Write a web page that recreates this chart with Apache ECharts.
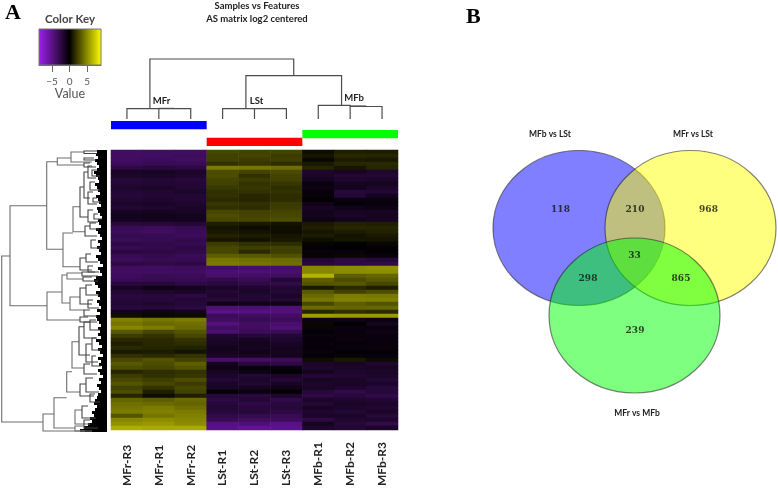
<!DOCTYPE html>
<html><head><meta charset="utf-8">
<style>html,body{margin:0;padding:0;background:#fff}#c{width:778px;height:489px;filter:blur(.45px)}</style>
<script src="https://cdn.jsdelivr.net/npm/echarts@6/dist/echarts.min.js"></script>
</head><body><div id="c"></div>
<script>
const samples = ['MFr-R3','MFr-R1','MFr-R2','LSt-R1','LSt-R2','LSt-R3','MFb-R1','MFb-R2','MFb-R3'];
const mfrR3 = [-3.6,-3.4,-3.5,-3.2,-2.4,-1.3,-1.5,-2.0,-1.8,-1.6,-1.9,-2.0,-1.7,-1.5,-1.8,-1.2,-0.9,-1.1,-2.2,-3.0,-3.2,-2.8,-3.1,-2.5,-2.9,-2.2,-3.0,-3.2,-2.4,
 -3.4,-3.6,-3.3,-3.1,-2.2,-1.2,-1.8,-2.2,-2.0,-1.8,-2.2,-0.9,0.6,
 4.6,4.2,4.8,3.2,2.2,1.5,1.2,1.6,1.0,1.8,2.6,3.2,2.8,1.4,2.2,2.6,3.0,2.4,2.8,1.4,3.6,4.0,4.2,4.4,3.0,4.8,5.2,6.2];
const mfrR1 = [-3.4,-3.5,-3.3,-3.0,-2.2,-1.2,-1.4,-1.8,-1.7,-1.4,-1.7,-1.9,-1.6,-1.3,-1.6,-1.1,-0.8,-1.0,-2.0,-3.2,-3.4,-3.0,-2.9,-2.6,-2.7,-2.4,-2.8,-3.0,-2.6,
 -3.5,-3.4,-3.1,-2.9,-2.0,-0.6,-1.6,-2.0,-2.1,-1.6,-2.0,-0.7,0.4,
 4.2,3.8,4.4,2.6,1.9,1.6,1.5,1.4,1.1,1.6,3.0,2.8,2.6,1.7,1.8,2.3,2.6,1.9,1.2,0.6,3.4,3.8,4.4,4.6,4.2,5.0,5.4,6.0];
const mfrR2 = [-3.5,-3.3,-3.4,-3.1,-2.3,-1.4,-1.6,-2.1,-1.9,-1.7,-1.5,-1.8,-1.9,-1.6,-1.4,-1.3,-1.0,-0.9,-1.9,-2.9,-3.1,-3.2,-2.7,-2.8,-2.5,-2.6,-3.1,-2.9,-2.5,
 -3.3,-3.5,-3.2,-3.0,-2.4,-1.0,-1.3,-2.3,-1.9,-2.0,-2.3,-1.0,0.5,
 4.4,4.0,3.8,3.0,2.6,1.9,1.7,1.3,0.8,1.9,2.4,3.4,3.0,1.9,2.0,2.8,2.2,2.6,2.4,1.2,3.8,3.6,4.0,4.4,4.6,4.8,5.0,6.0];
const lstR1 = [2.6,2.4,2.4,1.8,4.4,2.8,2.8,2.5,2.4,2.1,1.8,1.8,1.6,2.0,1.8,2.6,2.8,2.6,1.2,0.8,1.0,1.3,0.9,2.2,2.6,2.6,3.4,4.2,4.4,
 -3.6,-4.0,-3.8,-2.6,-2.2,-1.4,-1.8,-1.6,-2.0,-0.6,-4.2,-4.8,-3.2,
 -3.4,-4.4,-3.6,-4.0,-1.6,-1.4,-1.2,-0.9,-1.0,-1.3,-3.8,-1.0,-0.6,-1.2,-1.5,-1.8,-1.4,-1.3,-0.2,-2.0,-2.4,-2.0,-1.8,-2.2,-2.6,-3.0,-4.6,-4.8];
const lstR2 = [2.4,2.5,2.2,2.0,4.2,2.5,1.8,2.2,1.9,2.0,1.8,1.5,1.4,1.8,1.7,2.4,2.5,2.6,1.0,0.5,0.8,1.1,0.7,1.8,2.3,1.6,3.2,4.0,4.2,
 -3.8,-4.1,-3.6,-3.0,-2.4,-1.6,-1.5,-1.8,-1.7,-0.8,-4.0,-4.6,-3.4,
 -3.0,-3.6,-3.4,-3.2,-2.0,-1.2,-1.0,-1.1,-0.8,-1.2,-3.6,-2.2,-0.3,-0.6,-1.8,-1.5,-1.7,-1.1,-0.5,-2.2,-1.8,-2.4,-2.2,-2.0,-2.8,-3.4,-4.2,-5.2];
const lstR3 = [2.5,2.2,2.3,1.7,4.0,2.7,2.5,2.4,2.0,1.7,1.9,1.7,1.7,2.1,2.2,2.5,2.6,2.8,0.8,0.6,0.6,0.9,1.0,1.7,2.4,2.3,2.9,3.8,4.0,
 -3.7,-3.9,-3.4,-1.8,-2.6,-1.7,-1.9,-1.4,-1.8,-0.7,-4.3,-4.4,-3.6,
 -3.2,-3.8,-4.2,-3.0,-1.8,-1.6,-1.3,-1.0,-1.1,-1.0,-3.2,-2.4,-0.4,0.2,-1.4,-1.9,-1.2,-0.8,0.2,-1.6,-2.6,-2.2,-2.0,-2.4,-3.0,-3.2,-4.8,-5.0];
const mfbR1 = [0.6,0.9,0.4,1.0,1.4,-1.6,-1.4,-1.0,-0.4,-0.6,-0.2,-0.3,0.0,-0.8,-1.2,-0.9,-1.0,-0.6,1.0,1.2,0.9,1.1,0.6,0.3,-0.1,-0.4,0.3,-1.8,-2.2,
 4.8,4.8,6.4,3.4,3.0,1.0,3.2,3.8,4.2,2.6,3.8,1.4,5.6,
 -0.6,0.4,-0.3,-0.1,-0.5,-0.2,-0.4,-0.2,-0.5,-0.1,0.6,-1.4,-1.6,-1.0,-1.9,-1.2,-1.5,-1.3,-2.0,-2.4,-1.4,-1.8,-1.2,-1.6,-1.4,-2.4,-1.0,-1.6];
const mfbR2 = [1.2,1.5,1.1,1.5,0.9,-1.2,-1.8,-1.6,-1.1,-0.9,-2.0,-1.8,-0.4,-0.2,-0.8,-1.2,-1.3,-0.9,1.3,1.5,1.1,0.8,0.9,0.2,0.1,-0.3,0.4,-2.4,-2.4,
 5.0,5.0,3.4,2.8,3.2,1.6,2.4,4.4,4.6,3.4,3.6,1.8,5.4,
 -0.8,0.1,-0.5,-0.4,-0.3,-0.5,-0.2,-0.4,-0.1,-0.3,1.0,-1.2,-1.4,-1.6,-1.7,-1.4,-1.3,-1.6,-2.6,-2.2,-1.6,-1.3,-1.5,-1.8,-1.4,-1.7,-2.0,-1.8];
const mfbR3 = [1.1,1.4,1.0,1.6,1.4,-1.6,-1.8,-1.5,-1.0,-1.5,-1.9,-0.9,-0.5,-0.3,-0.6,-1.2,-1.1,-1.2,1.2,1.4,1.3,1.0,0.8,0.4,-0.2,0.2,-0.5,-2.0,-2.6,
 5.2,5.0,3.6,3.2,2.6,1.2,2.8,4.3,4.5,3.0,3.7,1.6,5.5,
 -0.5,-1.0,-0.4,-0.6,-0.4,-0.3,-0.4,-0.3,-0.2,-0.4,0.5,-1.6,-1.2,-1.4,-1.5,-1.8,-1.4,-2.1,-2.0,-2.6,-1.9,-1.5,-1.7,-1.4,-2.0,-1.6,-2.6,-1.4];
const heatColumns = [mfrR3,mfrR1,mfrR2,lstR1,lstR2,lstR3,mfbR1,mfbR2,mfbR3];
const heatColors = ['#a020f0','#000000','#ffff00'];
const keyRange = [-8.75, 9];
const keyTicks = [-5,0,5];

// sample tree, in column units across and join height upward
const sampleBranches = [
 [0.5,0,0.5,10.3,2.5,10.3,2.5,0],[1.5,0,1.5,10.3],[1.5,10.6,1.98,10.6],
 [3.5,0,3.5,10.3,5.5,10.3,5.5,0],[4.5,0,4.5,10.3],
 [6.5,0,6.5,13.7,7.5,13.7,7.5,12.5,8.5,12.5,8.5,0],[7.5,12.5,7.5,0],[7.5,13,8.0,13],
 [1.22,10.3,1.22,60,5.73,60,5.73,43.3],[4.23,10.3,4.23,43.3,7.23,43.3,7.23,13.7]
];
const groupNames = ['MFr','LSt','MFb'];
const groupStart = [0,3,6];
const groupEnd = [3,6,9];
const groupRow = [0,1.85,1];
const groupColors = ['#0000ff','#ff0000','#00ff00'];

// row tree brackets: join height, upper row, upper end, lower row, lower end
const rowBrackets = [
 [1.7,256,10,422,43],[10,205.7,46.7,305.7,47],[46.7,161.7,57.3,249.3,63],[57.3,158,71,165,84],
 [71,152,84,162,92],[84,151,97,153.5,97],[84,158,94,160,96],[84,163,90,167,96],
 [63,233,73,266.7,80],[73,206.7,80,231.7,85],[80,187,84,217,88],[84,172,88,198,90],[88,166,92,178,96],[88,192,93,204,97],
 [88,210,93,222,98],[85,226,90,236,97],[90,223,96,229,99],[80,258,86,270,92],[86,254,91,262,98],[88,266,93,272,99],
 [92,170,97,176,100],[90,182,95,190,100],[93,198,97,202,101],[91,240,96,248,101],[94,214,98,219,102],
 [47,292,62,320,80],[62,275,67,303,70],[67,273,82,279,83],[70,297,80,310,84],[82,272,95,276,98],[83,277,92,281,98],
 [80,288,86,304,92],[86,285,92,295,99],[88,300,93,308,99],[84,310,90,316,97],[80,317,88,322,97],
 [43,414,54,431,85],[54,397.7,66.7,428,75],[66.7,371.7,72,392,80],[72,341.7,79,368,84],[79,326.7,84,355,90],[84,322,90,338,96],
 [90,320,96,330,100],[86,344,92,362,98],[92,338,97,350,101],[92,356,96,366,101],[84,364,90,374,97],
 [80,384,86,396,94],[86,378,93,392,99],[90,394,95,402,100],[75,410,82,424,90],[82,406,88,418,96],[84,420,90,428,98],[75,426,84,431,92]
];
// left edge of the dense leaf block, top row to bottom row
const leafEdge = [97,96,98,95,97,99,97,94,96,98,99,95,97,98,100,96,98,99,101,97,98,100,102,98,99,101,96,98,100,102,
 98,100,97,99,101,96,98,100,103,98,100,102,96,94,95,98,100,96,98,100,97,99,101,97,100,96,97,99,101,98,
 100,98,101,96,99,102,98,100,103,98,101,99,102,98,100,103,99,101,97,99,101,98,97,95,94,97,95,92,94,90,92,88,84,80];

const vennSets = [[119,108,86,77.5],[230.5,108,85.5,77.5],[174.5,195.5,85.5,77.5]];
const vennColors = ['rgba(0,0,255,.5)','rgba(255,255,0,.5)','rgba(0,255,0,.5)'];
const vennCounts = ['118','210','968','33','298','865','239'];
const vennX = [100.5,175,248.5,174.5,128,221,175];
const vennY = [90,90,90,135.5,159,159,211];
const vennNames = ['MFb vs LSt','MFr vs LSt','MFr vs MFb'];
const vennNameX = [90,233,177];
const vennNameY = [14,14,293];

const F = 'Lato, "Open Sans", sans-serif';
const hidden = (o)=>Object.assign({show:false},o);
const heatData = [];
heatColumns.forEach((col,c)=>col.forEach((v,r)=>heatData.push([c,r,v])));
const rowsCat = mfrR3.map((_,i)=>String(i));
const lineStyle = (color,w)=>({stroke:color,lineWidth:w,fill:null});

const chart = echarts.init(document.getElementById('c'),null,{renderer:'canvas'});
const option = {
 animation:false,
 backgroundColor:'#fff',
 grid:[
  {left:111,top:150,width:287,height:282},
  {left:111,top:59,width:287,height:60},
  {left:111,top:121,width:287,height:25},
  {left:0,top:150,width:107,height:282},
  {left:0,top:150,width:107,height:282},
  {left:39,top:29,width:62,height:36},
  {left:460,top:120,width:318,height:300}
 ],
 xAxis:[
  {gridIndex:0,type:'category',data:samples,position:'bottom',axisLine:{show:false},axisTick:{show:false},splitLine:{show:false},
   axisLabel:{interval:0,rotate:90,align:'left',verticalAlign:'middle',margin:56,fontFamily:F,fontSize:12,fontWeight:'bold',color:'#222'}},
  hidden({gridIndex:1,type:'value',min:0,max:9}),
  hidden({gridIndex:2,type:'value',min:0,max:9}),
  hidden({gridIndex:3,type:'value',min:0,max:107}),
  hidden({gridIndex:4,type:'value',min:0,max:107}),
  {gridIndex:5,type:'value',min:keyRange[0],max:keyRange[1],position:'bottom',splitLine:{show:false},
   axisLine:{show:true,lineStyle:{color:'#666',width:1}},
   axisTick:{show:true,length:7,lineStyle:{color:'#666',width:1},customValues:keyTicks},
   axisLabel:{customValues:keyTicks,margin:12,fontFamily:F,fontSize:10,color:'#555',formatter:v=>String(v).replace('-','\u2212'),showMinLabel:true,showMaxLabel:true},
   name:'Value',nameLocation:'middle',nameGap:20,nameTextStyle:{fontFamily:F,fontSize:12.5,color:'#555'}},
  hidden({gridIndex:6,type:'value',min:0,max:318})
 ],
 yAxis:[
  {gridIndex:0,type:'category',data:rowsCat,inverse:true,show:false},
  hidden({gridIndex:1,type:'value',min:0,max:60}),
  hidden({gridIndex:2,type:'value',min:0,max:2.78,inverse:true}),
  hidden({gridIndex:3,type:'value',min:150,max:432,inverse:true}),
  hidden({gridIndex:4,type:'value',min:0,max:leafEdge.length,inverse:true}),
  hidden({gridIndex:5,type:'value',min:0,max:1}),
  hidden({gridIndex:6,type:'value',min:0,max:300,inverse:true})
 ],
 visualMap:{show:false,type:'continuous',seriesIndex:0,dimension:2,min:keyRange[0],max:keyRange[1],inRange:{color:heatColors}},
 graphic:[
  {type:'text',left:5,top:2,style:{text:'A',font:'bold 22px "Liberation Serif"',fill:'#000'}},
  {type:'text',left:466,top:6,style:{text:'B',font:'bold 22px "Liberation Serif"',fill:'#000'}},
  {type:'text',x:70,y:19,style:{text:'Color Key',align:'center',verticalAlign:'middle',font:'bold 11.5px '+F,fill:'#444'}},
  {type:'text',x:257,y:5.5,style:{text:'Samples vs Features',align:'center',verticalAlign:'middle',font:'bold 9.5px '+F,fill:'#222'}},
  {type:'text',x:257,y:19,style:{text:'AS matrix log2 centered',align:'center',verticalAlign:'middle',font:'bold 9.5px '+F,fill:'#222'}},
  {type:'text',x:161.5,y:100.5,style:{text:groupNames[0],align:'center',verticalAlign:'middle',font:'bold 9.5px '+F,fill:'#222'}},
  {type:'text',x:256.5,y:100.5,style:{text:groupNames[1],align:'center',verticalAlign:'middle',font:'bold 9.5px '+F,fill:'#222'}},
  {type:'text',x:354,y:97.5,style:{text:groupNames[2],align:'center',verticalAlign:'middle',font:'bold 9.5px '+F,fill:'#222'}},
  ...vennNames.map((t,i)=>({type:'text',x:460+vennNameX[i],y:120+vennNameY[i],style:{text:t,align:'center',verticalAlign:'middle',font:'bold 8.5px '+F,fill:'#222'}}))
 ],
 series:[
  {type:'heatmap',xAxisIndex:0,yAxisIndex:0,data:heatData,progressive:0,itemStyle:{borderWidth:0},emphasis:{disabled:true}},
  {type:'custom',xAxisIndex:1,yAxisIndex:1,coordinateSystem:'cartesian2d',data:sampleBranches.map((b,i)=>[i]),encode:{x:0},
   renderItem:(p,api)=>{
    const b = sampleBranches[p.dataIndex], pts=[];
    for(let i=0;i<b.length;i+=2) pts.push(api.coord([b[i],b[i+1]]));
    return {type:'polyline',shape:{points:pts},style:lineStyle('#4d4d4d',1.2)};
   }},
  {type:'custom',xAxisIndex:2,yAxisIndex:2,data:groupStart.map((s,i)=>[s,groupRow[i],groupEnd[i],i]),encode:{x:[0,2],y:1},
   renderItem:(p,api)=>{
    const a=api.coord([api.value(0),api.value(1)]),b=api.coord([api.value(2),api.value(1)+.93]);
    return {type:'rect',shape:{x:a[0],y:a[1],width:b[0]-a[0],height:b[1]-a[1]},style:{fill:groupColors[p.dataIndex]}};
   }},
  {type:'custom',xAxisIndex:4,yAxisIndex:4,data:leafEdge.map((e,i)=>[e,i]),encode:{x:0,y:1},
   renderItem:(p,api)=>{
    const a=api.coord([api.value(0),api.value(1)]),b=api.coord([107,api.value(1)+1]);
    return {type:'rect',shape:{x:a[0],y:a[1],width:b[0]-a[0],height:b[1]-a[1]},style:{fill:'#000'}};
   }},
  {type:'custom',xAxisIndex:3,yAxisIndex:3,data:rowBrackets,encode:{x:[0,2,4],y:[1,3]},
   renderItem:(p,api)=>{
    const v=[0,1,2,3,4].map(i=>api.value(i));
    return {type:'polyline',shape:{points:[api.coord([v[2],v[1]]),api.coord([v[0],v[1]]),api.coord([v[0],v[3]]),api.coord([v[4],v[3]])]},style:lineStyle(v[0]>78?'#444':'#6e6e6e',1.1)};
   }},
  {type:'custom',xAxisIndex:5,yAxisIndex:5,data:[[keyRange[0],keyRange[1]]],encode:{x:[0,1]},
   renderItem:(p,api)=>{
    const a=api.coord([api.value(0),1]),b=api.coord([api.value(1),0]);
    return {type:'rect',shape:{x:a[0],y:a[1],width:b[0]-a[0],height:b[1]-a[1]},
     style:{stroke:'#777',lineWidth:1,fill:new echarts.graphic.LinearGradient(0,0,1,0,[{offset:0,color:heatColors[0]},{offset:.4930,color:heatColors[1]},{offset:1,color:heatColors[2]}])}};
   }},
  {type:'custom',xAxisIndex:6,yAxisIndex:6,data:vennSets,encode:{x:0,y:1},
   renderItem:(p,api)=>{
    const c=api.coord([api.value(0),api.value(1)]),s=api.size([api.value(2),api.value(3)]);
    return {type:'ellipse',shape:{cx:c[0],cy:c[1],rx:Math.abs(s[0]),ry:Math.abs(s[1])},style:{fill:vennColors[p.dataIndex],stroke:'rgba(30,30,30,.55)',lineWidth:1.2}};
   }},
  {type:'scatter',xAxisIndex:6,yAxisIndex:6,symbolSize:0,silent:true,
   data:vennCounts.map((n,i)=>({value:[vennX[i],vennY[i]],name:n})),
   label:{show:true,position:'inside',formatter:'{b}',fontFamily:'"DejaVu Serif"',fontWeight:'bold',fontSize:9,color:'#111'}}
 ]
};
chart.setOption(option);
</script></body></html>
